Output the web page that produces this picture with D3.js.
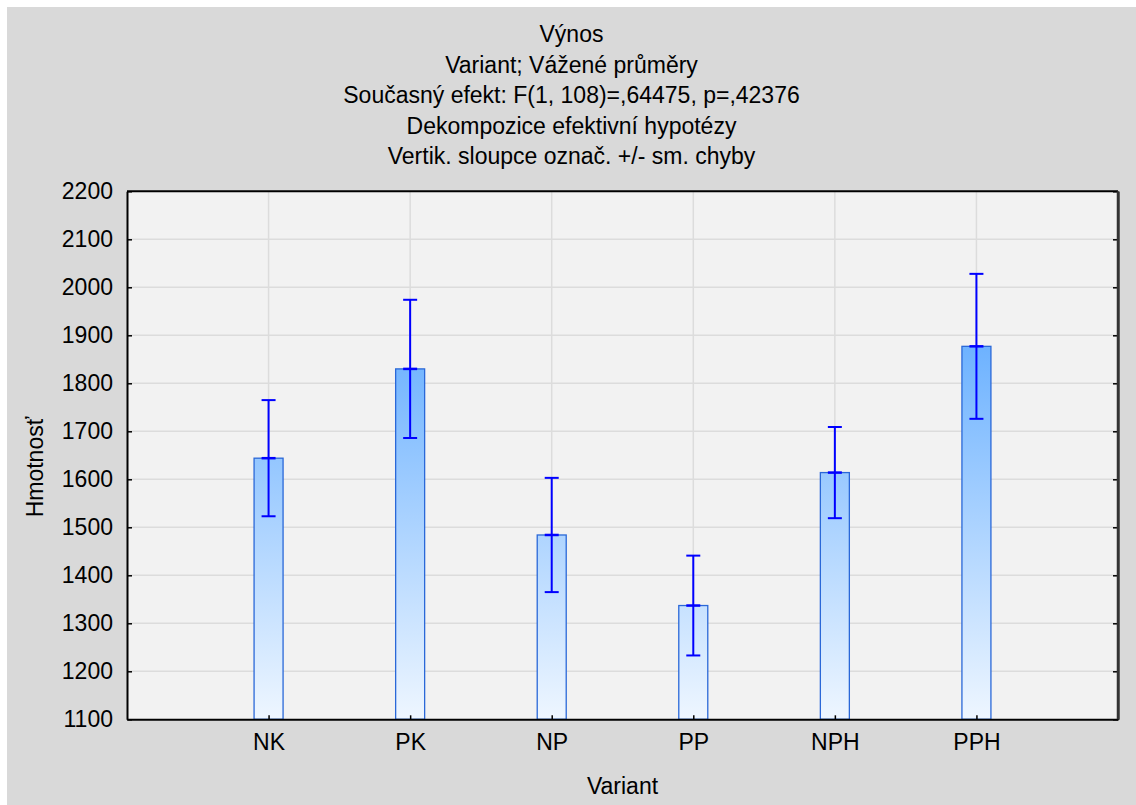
<!DOCTYPE html>
<html><head><meta charset="utf-8">
<script src="https://cdn.jsdelivr.net/npm/d3@7"></script>
<style>body{margin:0;background:#fff;} svg{display:block;}</style>
</head><body>
<script>
const categories = ["NK","PK","NP","PP","NPH","PPH"];
const means = [1644, 1830, 1484, 1337, 1614, 1877];
const stdErr = [121, 144, 119, 104, 95, 151];
const yTicks = [1100,1200,1300,1400,1500,1600,1700,1800,1900,2000,2100,2200];
const titleLines = ["Výnos","Variant; Vážené průměry","Současný efekt: F(1, 108)=,64475, p=,42376","Dekompozice efektivní hypotézy","Vertik. sloupce označ. +/- sm. chyby"];
const xTitle = "Variant", yTitle = "Hmotnosť";

const W = 1136, H = 805;
const L = 127, R = 1118, T = 191.3, B = 719.3;
const FS = 23;
const FF = "'Liberation Sans', Arial, sans-serif";
const svg = d3.select("body").append("svg").attr("width", W).attr("height", H)
  .style("font-family", FF);

svg.append("rect").attr("x", 7).attr("y", 7).attr("width", W - 7).attr("height", H - 7).attr("fill", "#d9d9d9");

const defs = svg.append("defs");
const grad = defs.append("linearGradient").attr("id", "bg").attr("gradientUnits", "userSpaceOnUse")
  .attr("x1", 0).attr("x2", 0).attr("y1", T).attr("y2", B);
grad.append("stop").attr("offset", 0).attr("stop-color", "#3896ff");
grad.append("stop").attr("offset", 1).attr("stop-color", "#eef6ff");

const x = d3.scaleLinear().domain([0, categories.length + 1]).range([L, R]);
const y = d3.scaleLinear().domain([1100, 2200]).range([B, T]);

svg.append("rect").attr("x", L).attr("y", T).attr("width", R - L).attr("height", B - T).attr("fill", "#f2f2f2");

// grid
svg.append("g").selectAll("line").data(yTicks.slice(1, -1)).join("line")
  .attr("x1", L).attr("x2", R).attr("y1", d => y(d)).attr("y2", d => y(d))
  .attr("stroke", "#dcdcdc").attr("stroke-width", 1.5);
svg.append("g").selectAll("line").data(categories).join("line")
  .attr("x1", (d, i) => x(i + 1)).attr("x2", (d, i) => x(i + 1)).attr("y1", T).attr("y2", B)
  .attr("stroke", "#dcdcdc").attr("stroke-width", 1.5);

// bars
const bw = 29;
svg.append("g").selectAll("rect").data(means).join("rect")
  .attr("x", (d, i) => x(i + 1) - bw / 2).attr("width", bw)
  .attr("y", d => y(d)).attr("height", d => y(1100) - y(d))
  .attr("fill", "url(#bg)").attr("stroke", "#2a68d8").attr("stroke-width", 1.3);

// error bars
const eb = svg.append("g").attr("stroke", "#0000ff").attr("stroke-width", 2);
means.forEach((m, i) => {
  const cx = x(i + 1);
  eb.append("line").attr("x1", cx).attr("x2", cx).attr("y1", y(m + stdErr[i])).attr("y2", y(m - stdErr[i]));
  [m + stdErr[i], m - stdErr[i], m].forEach(v => {
    eb.append("line").attr("x1", cx - 7).attr("x2", cx + 7).attr("y1", y(v)).attr("y2", y(v))
      .attr("stroke-width", v === m ? 2.5 : 2);
  });
});

// axes
const yAxisL = d3.axisLeft(y).tickValues(yTicks).tickFormat(d3.format("d")).tickSizeInner(-5).tickSizeOuter(0).tickPadding(14);
const gL = svg.append("g").attr("transform", `translate(${L},0)`).call(yAxisL);
gL.attr("font-size", FS).attr("font-family", FF);
gL.selectAll("text").attr("fill", "#000");
const yAxisR = d3.axisRight(y).tickValues(yTicks).tickSizeInner(-5).tickSizeOuter(0).tickFormat("");
svg.append("g").attr("transform", `translate(${R},0)`).call(yAxisR);
const xAxis = d3.axisBottom(x).tickValues(categories.map((d, i) => i + 1))
  .tickFormat((d) => categories[d - 1]).tickSizeInner(-4).tickSizeOuter(0).tickPadding(14);
const gB = svg.append("g").attr("transform", `translate(0,${B})`).call(xAxis);
gB.attr("font-size", FS).attr("font-family", FF);
gB.selectAll("text").attr("fill", "#000");
svg.selectAll(".domain").attr("stroke", "#000").attr("stroke-width", 2);
svg.selectAll(".tick line").attr("stroke", "#000").attr("stroke-width", 1.5);
// top line
svg.append("line").attr("x1", L).attr("x2", R).attr("y1", T).attr("y2", T).attr("stroke", "#000").attr("stroke-width", 2);
svg.append("line").attr("x1", R).attr("x2", R).attr("y1", T).attr("y2", B).attr("stroke", "#333").attr("stroke-width", 2.5);

// titles
svg.append("g").selectAll("text").data(titleLines).join("text")
  .attr("x", 571.5).attr("y", (d, i) => 34 + i * 30.6).attr("dy", "0.35em")
  .attr("text-anchor", "middle").attr("font-size", FS).text(d => d);
svg.append("text").attr("x", 622.5).attr("y", 786).attr("dy", "0.35em").attr("text-anchor", "middle")
  .attr("font-size", FS).text(xTitle);
svg.append("text").attr("transform", "translate(35,467) rotate(-90)").attr("dy", "0.35em")
  .attr("text-anchor", "middle").attr("font-size", FS).text(yTitle);
</script>
</body></html>
